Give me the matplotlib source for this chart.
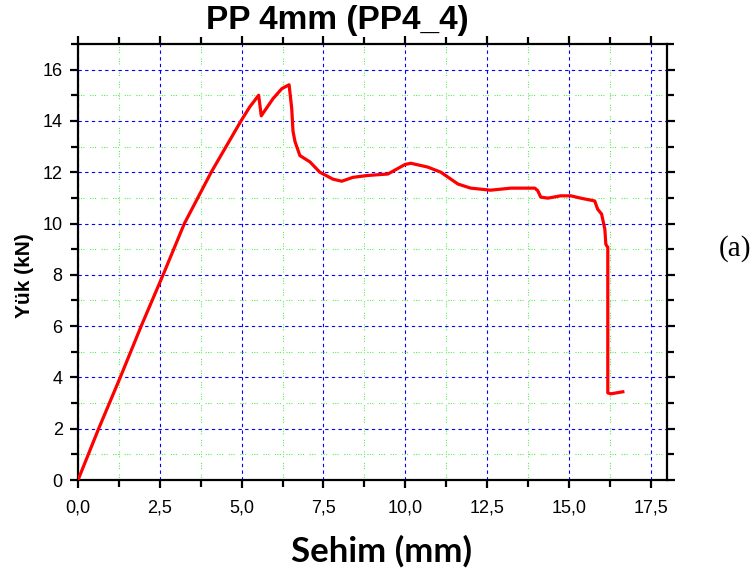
import matplotlib
matplotlib.use("Agg")
import matplotlib.pyplot as plt
from matplotlib.ticker import MultipleLocator, FuncFormatter

# Load–deflection record for specimen PP4_4
sehim = [0.0, 0.63, 1.29, 1.93, 2.60, 3.25, 4.07, 4.98, 5.25, 5.52, 5.60, 5.96,
         6.23, 6.45, 6.53, 6.57, 6.63, 6.78, 7.09, 7.39, 7.79, 8.06, 8.40, 8.83,
         9.13, 9.47, 9.99, 10.17, 10.69, 11.09, 11.61, 12.00, 12.61, 13.23, 13.96,
         14.05, 14.14, 14.36, 14.75, 15.06, 15.36, 15.79, 15.88, 16.00, 16.10,
         16.13, 16.19, 16.19, 16.28, 16.65]
yuk = [0.0, 2.0, 4.0, 6.0, 8.0, 10.0, 12.0, 14.0, 14.55, 15.0, 14.20, 14.87,
       15.26, 15.41, 14.50, 13.60, 13.20, 12.65, 12.40, 12.00, 11.73, 11.65, 11.80,
       11.87, 11.90, 11.93, 12.30, 12.35, 12.20, 12.00, 11.54, 11.38, 11.30, 11.38,
       11.38, 11.28, 11.03, 10.99, 11.08, 11.08, 10.99, 10.88, 10.56, 10.37, 9.78,
       9.19, 9.07, 3.40, 3.36, 3.44]

baslik = "PP 4mm (PP4_4)"
x_etiket = "Sehim (mm)"
y_etiket = "Yük (kN)"
panel = "(a)"

plt.rcParams["font.family"] = ["Liberation Sans", "DejaVu Sans"]

fig = plt.figure(figsize=(7.56, 5.75), dpi=100)
ax = fig.add_axes([0.1032, 0.1652, 0.7791, 0.7583])

ax.plot(sehim, yuk, color="#ff0000", lw=2.3, solid_joinstyle="round", zorder=3)

ax.set_xlim(0, 18)
ax.set_ylim(0, 17)
ax.xaxis.set_major_locator(MultipleLocator(2.5))
ax.xaxis.set_minor_locator(MultipleLocator(1.25))
ax.yaxis.set_major_locator(MultipleLocator(2))
ax.yaxis.set_minor_locator(MultipleLocator(1))
ax.xaxis.set_major_formatter(FuncFormatter(lambda v, p: f"{v:.1f}".replace(".", ",")))
ax.yaxis.set_major_formatter(FuncFormatter(lambda v, p: f"{v:.0f}"))

ax.grid(which="major", color="#0000ff", lw=0.8, ls=(0, (3, 3)), zorder=1)
ax.grid(which="minor", color="#55ee55", lw=0.8, ls=(0, (1, 1.2, 1, 1.2, 1, 5)), zorder=1)

for s in ax.spines.values():
    s.set_linewidth(1.6)

ax.tick_params(which="both", direction="out", top=True, right=True,
               width=1.6, labelsize=13)
ax.tick_params(which="major", length=6)
ax.tick_params(which="minor", length=5)
ax.tick_params(axis="x", which="major", pad=8)
ax.tick_params(axis="y", which="major", pad=5)

ax.set_ylabel(y_etiket, fontsize=15, fontweight="bold")
ax.yaxis.set_label_coords(-0.075, 0.468)

fig.text(0.505, 0.042, x_etiket, fontsize=25, fontweight="bold", family="Lato",
         ha="center", va="center")
fig.text(0.446, 0.965, baslik, fontsize=24, fontweight="bold",
         ha="center", va="center")
fig.text(0.972, 0.567, panel, fontsize=21, family="Liberation Serif",
         ha="center", va="center")

fig.savefig("out.png", dpi=100)
